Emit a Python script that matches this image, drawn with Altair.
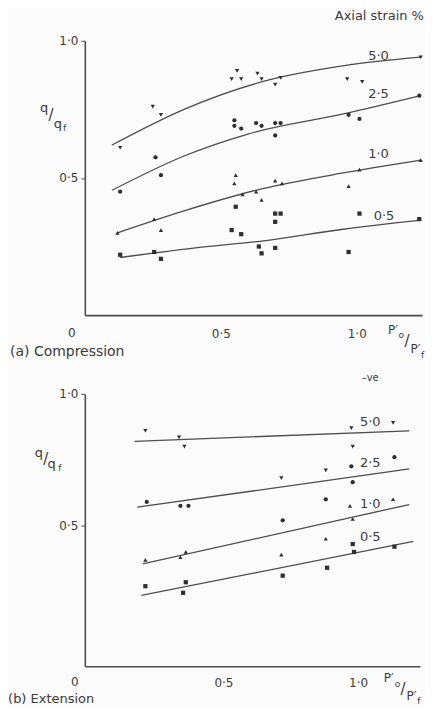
import altair as alt
import pandas as pd

# ---------------- (a) Compression : measured points ----------------
c50_x = [0.13, 0.25, 0.28, 0.54, 0.56, 0.575, 0.635, 0.65, 0.70, 0.72, 0.965, 1.02, 1.235]
c50_y = [0.61, 0.76, 0.73, 0.86, 0.89, 0.86, 0.88, 0.86, 0.84, 0.865, 0.86, 0.85, 0.94]
c25_x = [0.13, 0.26, 0.28, 0.55, 0.55, 0.575, 0.63, 0.65, 0.70, 0.72, 0.70, 0.97, 1.01, 1.23]
c25_y = [0.45, 0.575, 0.51, 0.71, 0.69, 0.68, 0.70, 0.69, 0.70, 0.70, 0.655, 0.73, 0.715, 0.80]
c10_x = [0.12, 0.255, 0.28, 0.555, 0.55, 0.58, 0.63, 0.65, 0.70, 0.725, 0.97, 1.01, 1.235]
c10_y = [0.30, 0.35, 0.31, 0.51, 0.48, 0.44, 0.45, 0.42, 0.49, 0.48, 0.47, 0.53, 0.565]
c05_x = [0.13, 0.255, 0.28, 0.555, 0.54, 0.575, 0.64, 0.65, 0.70, 0.72, 0.70, 0.70, 0.97, 1.01, 1.23]
c05_y = [0.22, 0.23, 0.205, 0.395, 0.31, 0.295, 0.25, 0.225, 0.37, 0.37, 0.34, 0.245, 0.23, 0.37, 0.35]

# fitted curves
cc50_x = [0.10, 0.365, 0.65, 0.96, 1.235]
cc50_y = [0.62, 0.75, 0.85, 0.91, 0.94]
cc25_x = [0.10, 0.365, 0.60, 0.96, 1.235]
cc25_y = [0.455, 0.58, 0.66, 0.735, 0.80]
cc10_x = [0.12, 0.365, 0.65, 0.96, 1.235]
cc10_y = [0.30, 0.38, 0.46, 0.52, 0.565]
cc05_x = [0.13, 0.40, 0.65, 0.95, 1.23]
cc05_y = [0.21, 0.244, 0.27, 0.313, 0.345]

# ---------------- (b) Extension : measured points ----------------
e50_x = [0.21, 0.335, 0.355, 0.715, 0.88, 0.975, 0.98, 1.13]
e50_y = [0.86, 0.835, 0.80, 0.68, 0.71, 0.87, 0.80, 0.89]
e25_x = [0.215, 0.34, 0.37, 0.72, 0.88, 0.975, 0.98, 1.135]
e25_y = [0.59, 0.575, 0.575, 0.52, 0.60, 0.725, 0.665, 0.76]
e10_x = [0.21, 0.34, 0.36, 0.715, 0.88, 0.97, 0.98, 1.13]
e10_y = [0.37, 0.38, 0.40, 0.39, 0.45, 0.575, 0.525, 0.60]
e05_x = [0.21, 0.35, 0.36, 0.72, 0.885, 0.985, 0.98, 1.135]
e05_y = [0.27, 0.245, 0.285, 0.31, 0.34, 0.40, 0.43, 0.42]

# straight fitted lines
el50_x = [0.17, 1.19]
el50_y = [0.82, 0.86]
el25_x = [0.18, 1.19]
el25_y = [0.57, 0.715]
el10_x = [0.20, 1.19]
el10_y = [0.355, 0.58]
el05_x = [0.195, 1.205]
el05_y = [0.235, 0.44]

series = ["5·0", "2·5", "1·0", "0·5"]

FONT = "DejaVu Sans"
INK = "#3a3a3a"
LINE = "#4d4d4d"


def frame(pairs):
    rows = []
    for s, xs, ys in pairs:
        for a, b in zip(xs, ys):
            rows.append({"x": a, "y": b, "s": s})
    return pd.DataFrame(rows)


def texts(items):
    return pd.DataFrame(items, columns=["x", "y", "t", "fs"])


shape_scale = alt.Scale(domain=series,
                        range=["triangle-down", "circle", "triangle-up", "square"])
label_expr = "replace(format(datum.value, '.1f'), '.', '·')"


def panel(pts, lines, ann_center, ann_left, ann_right, xdom, ydom, w, h, xpad):
    xe = alt.X("x:Q", scale=alt.Scale(domain=xdom, nice=False, zero=False),
               axis=alt.Axis(values=[0.5, 1.0], labelExpr=label_expr, title=None,
                             ticks=False, grid=False, domainColor=LINE, domainWidth=1.6,
                             labelFont=FONT, labelFontSize=12, labelColor=INK,
                             labelPadding=xpad))
    ye = alt.Y("y:Q", scale=alt.Scale(domain=ydom, nice=False, zero=False),
               axis=alt.Axis(values=[0.5, 1.0], labelExpr=label_expr, title=None,
                             tickSize=4, tickColor=LINE, grid=False, domainColor=LINE,
                             domainWidth=1.6, labelFont=FONT, labelFontSize=12,
                             labelColor=INK, labelPadding=3))
    line_layer = alt.Chart(lines).mark_line(color=LINE, strokeWidth=1.3,
                                            interpolate="monotone").encode(
        x=xe, y=ye, detail="s:N")
    pt_layer = alt.Chart(pts).mark_point(filled=True, size=18, color="#2e2e2e",
                                         opacity=1).encode(
        x=xe, y=ye, shape=alt.Shape("s:N", scale=shape_scale, legend=None))
    layers = [line_layer, pt_layer]
    for df, al in ((ann_center, "center"), (ann_left, "left"), (ann_right, "right")):
        if len(df):
            layers.append(alt.Chart(df).mark_text(font=FONT, color=INK, align=al,
                                                  baseline="middle").encode(
                x=xe, y=ye, text="t:N", size=alt.Size("fs:Q", scale=None)))
    return alt.layer(*layers).properties(width=w, height=h)


# ---------------- top panel ----------------
top_pts = frame([("5·0", c50_x, c50_y), ("2·5", c25_x, c25_y),
                 ("1·0", c10_x, c10_y), ("0·5", c05_x, c05_y)])
top_lines = frame([("5·0", cc50_x, cc50_y), ("2·5", cc25_x, cc25_y),
                   ("1·0", cc10_x, cc10_y), ("0·5", cc05_x, cc05_y)])
top_center = texts([
    (1.08, 0.945, "5·0", 13), (1.08, 0.807, "2·5", 13),
    (1.08, 0.589, "1·0", 13), (1.10, 0.36, "0·5", 13),
    (-0.048, -0.065, "0", 12),
    (-0.150, 0.755, "q", 13), (-0.124, 0.728, "/", 15),
    (-0.099, 0.698, "q", 13), (-0.074, 0.682, "f", 9),
    (1.133, -0.055, "P′", 12), (1.164, -0.073, "o", 9),
    (1.185, -0.095, "/", 15), (1.216, -0.125, "P′", 12),
    (1.242, -0.145, "f", 9),
])
top_left = texts([(-0.275, -0.135, "(a) Compression", 14)])
top_right = texts([(1.247, 1.092, "Axial strain %", 13)])
top = panel(top_pts, top_lines, top_center, top_left, top_right,
            [0, 1.24], [0, 1.0], 338, 275, 13)

# ---------------- bottom panel ----------------
bot_pts = frame([("5·0", e50_x, e50_y), ("2·5", e25_x, e25_y),
                 ("1·0", e10_x, e10_y), ("0·5", e05_x, e05_y)])
bot_lines = frame([("5·0", el50_x, el50_y), ("2·5", el25_x, el25_y),
                   ("1·0", el10_x, el10_y), ("0·5", el05_x, el05_y)])
bot_center = texts([
    (1.045, 0.894, "5·0", 13), (1.045, 0.739, "2·5", 13),
    (1.045, 0.583, "1·0", 13), (1.045, 0.455, "0·5", 13),
    (1.045, 1.06, "–ve", 10),
    (-0.052, -0.095, "0", 12),
    (-0.186, 0.776, "q", 13), (-0.160, 0.752, "/", 15),
    (-0.138, 0.735, "q", 13), (-0.108, 0.72, "f", 9),
    (1.114, -0.080, "P′", 12), (1.146, -0.102, "o", 9),
    (1.167, -0.121, "/", 15), (1.198, -0.148, "P′", 12),
    (1.226, -0.167, "f", 9),
])
bot_left = texts([(-0.300, -0.159, "(b) Extension", 13)])
bot_right = texts([])
bottom = panel(bot_pts, bot_lines, bot_center, bot_left, bot_right,
               [-0.015, 1.23], [-0.034, 1.0], 336, 273, 11)

chart = alt.vconcat(top, bottom, spacing=13).properties(
    padding=0, background="#fbfbfb"
).configure_view(stroke=None)

chart.save("out.html", embed_options={"renderer": "svg", "actions": False})
